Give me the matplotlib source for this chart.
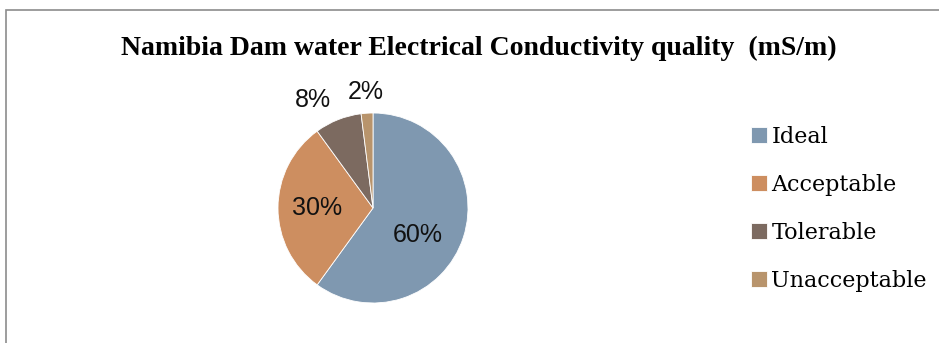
import matplotlib
matplotlib.use('Agg')
import matplotlib.pyplot as plt
import numpy as np
from matplotlib.patches import Rectangle

# Dam water EC quality shares
categories = ['Ideal', 'Acceptable', 'Tolerable', 'Unacceptable']
shares = [60, 30, 8, 2]
labels = ['60%', '30%', '8%', '2%']
colors = ['#7F98B0', '#CD8E60', '#7C6A60', '#B8946C']
label_dist = [0.55, 0.59, 1.3, 1.22]
label_turn = [-13, 0, 7.5, 0]   # degrees, nudges labels off the mid-angle

W, H = 939, 343
fig = plt.figure(figsize=(W / 100, H / 100), dpi=100)

# chart border (only top and left edges fall inside the image)
fig.add_artist(Rectangle((5.5 / W, -0.2), 1.2, 1.2 - 9.5 / H, transform=fig.transFigure,
                         fill=False, edgecolor='#8c8c8c', linewidth=1.2))

cx, cy, r = 373, H - 208, 95
ax = fig.add_axes([(cx - r) / W, (cy - r) / H, 2 * r / W, 2 * r / H])
wedges, _ = ax.pie(shares, colors=colors, startangle=90, counterclock=False,
                   radius=1, wedgeprops=dict(edgecolor='white', linewidth=0.6))
ax.set_xlim(-1, 1)
ax.set_ylim(-1, 1)
ax.set_aspect('equal')
ax.axis('off')

for w, lab, d, t in zip(wedges, labels, label_dist, label_turn):
    ang = np.deg2rad((w.theta1 + w.theta2) / 2 + t)
    ax.text(d * np.cos(ang), d * np.sin(ang), lab, ha='center', va='center',
            fontsize=18, family='Liberation Sans', color='#111111')

fig.text(479 / W, 1 - 48 / H, 'Namibia Dam water Electrical Conductivity quality  (mS/m)',
         ha='center', va='center', fontsize=20, fontweight='bold', family='Liberation Serif')

fig.legend(wedges, categories, loc='upper left', bbox_to_anchor=(751 / W, 1 - 126 / H),
           frameon=False, prop={'family': 'DejaVu Serif', 'size': 16},
           handlelength=0.7, handleheight=0.7, handletextpad=0.22, labelspacing=1.17,
           borderpad=0, borderaxespad=0)

fig.savefig('out.png', dpi=100)
